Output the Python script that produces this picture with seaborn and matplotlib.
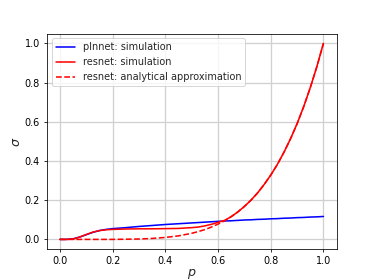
import matplotlib
matplotlib.use("Agg")
import matplotlib.pyplot as plt
import seaborn as sns
import pandas as pd

p_vals = [0.0, 0.025, 0.05, 0.075, 0.1, 0.125, 0.15, 0.175, 0.2, 0.25, 0.3, 0.35,
          0.4, 0.45, 0.5, 0.525, 0.55, 0.575, 0.6, 0.625, 0.65, 0.675, 0.7, 0.725,
          0.75, 0.775, 0.8, 0.825, 0.85, 0.875, 0.9, 0.925, 0.95, 0.975, 1.0]
plnnet_sim = [0.0, 0.0, 0.003, 0.012, 0.024, 0.036, 0.045, 0.051, 0.055, 0.060, 0.066, 0.071,
              0.076, 0.080, 0.084, 0.086, 0.088, 0.090, 0.092, 0.094, 0.095, 0.097, 0.099, 0.100,
              0.102, 0.103, 0.105, 0.106, 0.108, 0.109, 0.111, 0.112, 0.114, 0.115, 0.117]
resnet_sim = [0.0, 0.0, 0.002, 0.012, 0.025, 0.037, 0.045, 0.049, 0.051, 0.053, 0.054, 0.054,
              0.055, 0.056, 0.060, 0.063, 0.069, 0.077, 0.087, 0.097, 0.116, 0.140, 0.168, 0.200,
              0.237, 0.280, 0.328, 0.382, 0.444, 0.513, 0.590, 0.677, 0.774, 0.881, 1.0]
resnet_approx = [0.0, 0.0, 0.0, 0.0, 0.0, 0.0, 0.0, 0.0, 0.0, 0.001, 0.002, 0.005,
                 0.010, 0.018, 0.031, 0.040, 0.050, 0.063, 0.078, 0.095, 0.116, 0.140, 0.168, 0.200,
                 0.237, 0.280, 0.328, 0.382, 0.444, 0.513, 0.590, 0.677, 0.774, 0.881, 1.0]

df = pd.DataFrame({"p": p_vals, "plnnet": plnnet_sim,
                   "resnet": resnet_sim, "approx": resnet_approx})

sns.set_style("ticks")
plt.rcParams["font.family"] = ["DejaVu Sans"]

DPI = 70
fig, ax = plt.subplots(figsize=(374 / DPI, 280 / DPI), dpi=DPI)

sns.lineplot(data=df, x="p", y="plnnet", ax=ax, color="blue", linewidth=1.6,
             label="plnnet: simulation")
sns.lineplot(data=df, x="p", y="resnet", ax=ax, color="red", linewidth=1.6,
             label="resnet: simulation")
sns.lineplot(data=df, x="p", y="approx", ax=ax, color="red", linewidth=1.6,
             linestyle="--", label="resnet: analytical approximation")

ax.set_xlabel("$p$", fontsize=13, labelpad=1)
ax.set_ylabel("$\\sigma$", fontsize=13, labelpad=2)
ax.grid(True, color="#d0d0d0", linewidth=1.3)
ax.tick_params(labelsize=10, length=3.5, width=0.8, colors="black")
ax.legend(loc="upper left", fontsize=10)
for s in ax.spines.values():
    s.set_color("black")

plt.savefig("out.png", dpi=DPI)
